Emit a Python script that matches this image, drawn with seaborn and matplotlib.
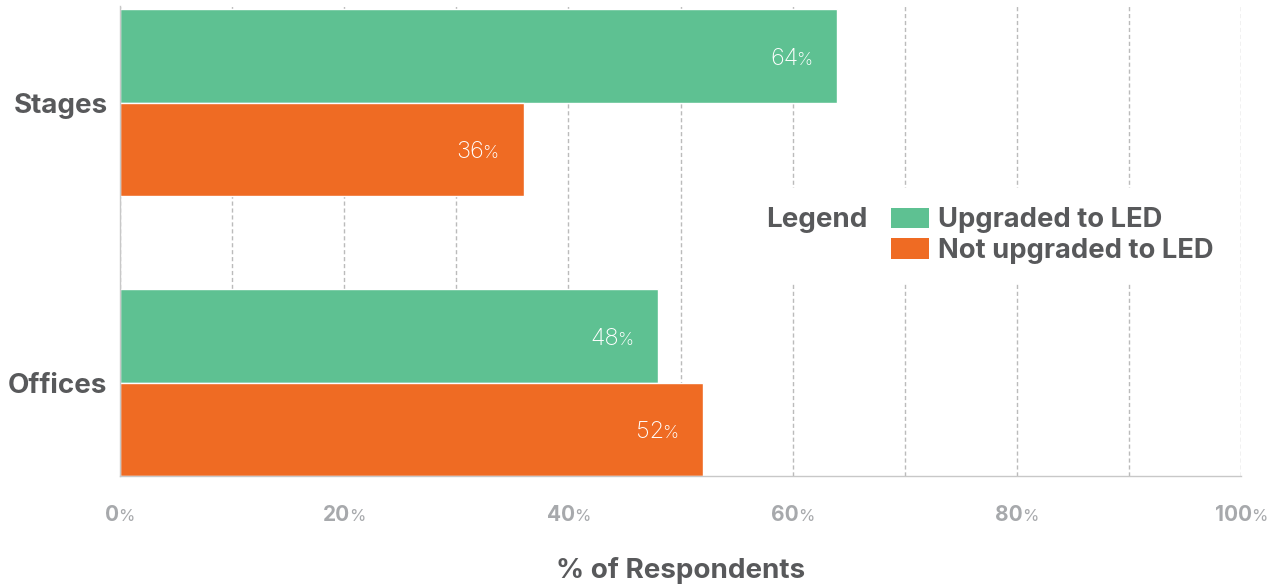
import matplotlib
matplotlib.use("Agg")
import matplotlib.pyplot as plt
import seaborn as sns
import pandas as pd
from matplotlib.patches import Patch
from matplotlib.offsetbox import HPacker

# ---- data ----
categories = ["Stages", "Offices"]
series_names = ["Upgraded to LED", "Not upgraded to LED"]
upgraded = [64, 48]
not_upgraded = [36, 52]
x_ticks = [0, 20, 40, 60, 80, 100]
grid_ticks = [0, 10, 20, 30, 40, 50, 60, 70, 80, 90, 100]
x_label = "% of Respondents"
legend_title = "Legend"

GREEN = "#5EC192"
ORANGE = "#EF6B23"
DARK = "#58595B"
LIGHT = "#A7A9AC"
FONT = "Inter"

df = pd.DataFrame({
    "venue": categories * 2,
    "status": [series_names[0]] * len(categories) + [series_names[1]] * len(categories),
    "pct": upgraded + not_upgraded,
})

sns.set_theme(style="white")
plt.rcParams["font.family"] = [FONT, "DejaVu Sans"]

fig = plt.figure(figsize=(12.86, 5.86), dpi=100)
ax = fig.add_axes([120 / 1286, (586 - 476) / 586, (1241 - 120) / 1286, (476 - 6) / 586])

sns.barplot(data=df, x="pct", y="venue", hue="status", orient="h",
            palette=[GREEN, ORANGE], saturation=1, width=0.667, gap=0,
            legend=False, ax=ax, zorder=2)

ax.set_xlim(0, 100)
ax.set_ylim(1.3335, -0.346)

# grid
ax.set_xticks(grid_ticks)
ax.set_xticklabels([])
ax.tick_params(axis="x", length=0)
ax.xaxis.grid(True, color="#BBBBBB", linestyle=(0, (3, 2)), linewidth=1, zorder=0)
ax.set_axisbelow(True)
ax.yaxis.grid(False)

for s in ["top", "right"]:
    ax.spines[s].set_visible(False)
ax.spines["left"].set_color("#C8C8C8")
ax.spines["bottom"].set_color("#C8C8C8")
ax.spines["left"].set_linewidth(1)
ax.spines["bottom"].set_linewidth(1)

# category labels
ax.set_ylabel("")
ax.tick_params(axis="y", length=0, pad=9)
for lab in ax.get_yticklabels():
    lab.set_fontsize(20)
    lab.set_fontweight("bold")
    lab.set_color(DARK)

renderer = fig.canvas.get_renderer()


def text_width(s, size, weight):
    t = fig.text(0, 0, s, fontsize=size, fontweight=weight)
    w = t.get_window_extent(renderer=renderer).width
    t.remove()
    return w


# x tick labels: number + smaller %
for v in x_ticks:
    num = f"{v}"
    wn = text_width(num, 15, "bold") - 1
    wp = text_width("%", 12, "normal")
    start = -(wn + wp) / 2
    ax.annotate(num, xy=(v, 0), xycoords=("data", "axes fraction"),
                xytext=(start, -45), textcoords="offset pixels",
                ha="left", va="baseline", fontsize=15, fontweight="bold",
                color=LIGHT, annotation_clip=False)
    ax.annotate("%", xy=(v, 0), xycoords=("data", "axes fraction"),
                xytext=(start + wn, -45), textcoords="offset pixels",
                ha="left", va="baseline", fontsize=12, fontweight="normal",
                color=LIGHT, annotation_clip=False)

# bar value labels
for cont in ax.containers:
    for bar in cont:
        val = bar.get_width()
        yc = bar.get_y() + bar.get_height() / 2
        wp = text_width("%", 13, "light") - 2
        ax.annotate("%", xy=(val, yc), xytext=(-25, -9), textcoords="offset pixels",
                    ha="right", va="baseline", fontsize=13, fontweight="light",
                    color="white")
        ax.annotate(f"{val:.0f}", xy=(val, yc), xytext=(-25 - wp, -9),
                    textcoords="offset pixels", ha="right", va="baseline",
                    fontsize=17, fontweight="light", color="white")

# x label
ax.set_xlabel(x_label, fontsize=20, fontweight="bold", color=DARK)
ax.xaxis.set_label_coords(0.5, -102 / 470)
ax.xaxis.label.set_va("baseline")

# legend with title on the left
handles = [Patch(facecolor=GREEN, edgecolor="none"), Patch(facecolor=ORANGE, edgecolor="none")]
leg = ax.legend(handles, series_names, title=legend_title, loc="upper left",
                bbox_to_anchor=(747 / 1286, (586 - 188) / 586), bbox_transform=fig.transFigure,
                frameon=True, facecolor="white", edgecolor="none", framealpha=1,
                fancybox=False, prop={"size": 19.7, "weight": "bold"},
                title_fontproperties={"size": 20, "weight": "bold"},
                handlelength=1.37, handleheight=0.76, handletextpad=0.35,
                labelspacing=0.17, borderpad=0.6, borderaxespad=0)
for t in leg.get_texts():
    t.set_color(DARK)
leg.get_title().set_color(DARK)
box = HPacker(pad=14, sep=17, align="top",
              children=[leg._legend_title_box, leg._legend_handle_box])
box.set_figure(fig)
box.set_offset(leg._findoffset)
leg._legend_box = box
leg.set_zorder(5)

fig.savefig("out.png", dpi=100)
